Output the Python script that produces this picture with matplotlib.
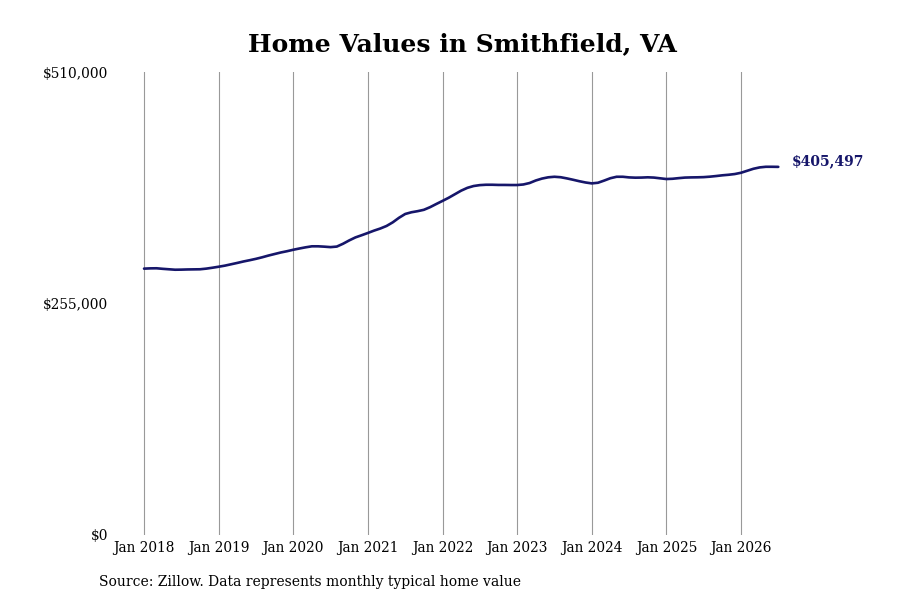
import numpy as np
import matplotlib
matplotlib.use("Agg")
import matplotlib.pyplot as plt

# monthly typical home value, Jan 2018 .. Jul 2026
start_year = 2018
values = [
    293400, 293700, 293800, 293200, 292700, 292200, 292300, 292500, 292600, 292700, 293400, 294400,
    295500, 296700, 298200, 299700, 301300, 302700, 304200, 305900, 307800, 309500, 311200, 312600,
    314200, 315600, 316900, 318000, 318000, 317600, 317100, 317700, 320800, 324500, 327800, 330200,
    332700, 335300, 337600, 340400, 344400, 349400, 353600, 355500, 356700, 358200, 361100, 364600,
    368000, 371500, 375400, 379300, 382400, 384400, 385400, 385800, 385800, 385600, 385600, 385500,
    385500, 386100, 387700, 390500, 392600, 394000, 394600, 394100, 392800, 391300, 389700, 388300,
    387300, 388000, 390400, 393000, 394600, 394600, 393900, 393600, 393700, 394000, 393700, 392900,
    392100, 392400, 393100, 393700, 393900, 394000, 394200, 394700, 395400, 396200, 396800, 397600,
    399000, 401200, 403400, 404900, 405600, 405600, 405497,
]
tick_years = list(range(2018, 2027))
tick_labels = [f"Jan {y}" for y in tick_years]
y_ticks = [0, 255000, 510000]
y_labels = ["$0", "$255,000", "$510,000"]
title = "Home Values in Smithfield, VA"
source = "Source: Zillow. Data represents monthly typical home value"

plt.rcParams['font.family'] = ['DejaVu Serif']
navy = "#16166a"

x = start_year + np.arange(len(values)) / 12.0

fig = plt.figure(figsize=(9, 6), dpi=100)
ax = fig.add_axes([115/900, 1 - 535/600, 695/900, 463/600])
ax.plot(x, values, color=navy, lw=1.9, solid_capstyle='round')

ax.set_xlim(2017.611, 2026.925)
ax.set_ylim(0, 510000)
ax.set_xticks(tick_years)
ax.set_xticklabels(tick_labels, fontsize=11, fontstretch='condensed')
ax.set_yticks(y_ticks)
ax.set_yticklabels(y_labels, fontsize=11, fontstretch='condensed')
ax.tick_params(axis='x', length=0, pad=4)
ax.tick_params(axis='y', length=0, pad=5)
ax.grid(axis='x', color='#999999', lw=0.8)
ax.grid(axis='y', visible=False)
for s in ax.spines.values():
    s.set_visible(False)

ax.annotate(f"${values[-1]:,}", (x[-1], values[-1]), xytext=(10, 4),
            textcoords='offset points', color=navy, fontsize=10,
            fontweight='bold', va='center', ha='left')

ax.set_title(title, fontsize=18, fontweight='bold', pad=15)
fig.text(99/900, 1 - 582/600, source, fontsize=10, va='center', ha='left')

fig.savefig("out.png", dpi=100)
